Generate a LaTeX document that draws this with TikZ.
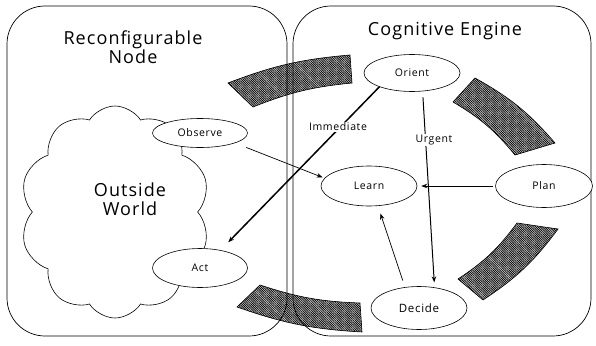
\documentclass[tikz,border=0pt]{standalone}
\usepackage{fontspec}
\setmainfont{Open Sans}
\newfontfamily\ttlfont[LetterSpace=6]{Open Sans}
\newfontfamily\smlfont[LetterSpace=6]{Open Sans}
\usetikzlibrary{shapes.geometric,shapes.symbols,patterns.meta,arrows.meta}
\begin{document}
\begin{tikzpicture}[x=1pt,y=-1pt,
  ell/.style={ellipse, draw, fill=white, line width=0.6pt, inner sep=0pt, font=\smlfont\fontsize{10.5}{12}\selectfont},
  ttl/.style={font=\ttlfont\fontsize{18}{19}\selectfont, align=center, inner sep=0pt},
  lbl/.style={fill=white, inner sep=1pt, font=\smlfont\fontsize{10.5}{12}\selectfont},
  band/.style={draw, line width=0.6pt, preaction={fill=gray!45}, pattern={Lines[angle=-45,distance=1.6pt,line width=0.7pt]}},
  boxline/.style={draw, line width=0.7pt, rounded corners=38pt},
  arr/.style={-{Stealth[length=6pt,width=4.5pt]}, line width=0.7pt}
]
\useasboundingbox (0,0) rectangle (596,345);
% cloud
\node[cloud, draw, line width=0.6pt, cloud puffs=10, cloud puff arc=115, aspect=0.9, minimum width=190pt, minimum height=212pt, inner sep=0pt] (world) at (115,212) {};
\node[ttl] (worldtxt) at (130,199) {Outside\\World};
% hatched bands
\path[band] (228,83) to[bend left=8] (350,55) -- (352,83) to[bend right=8] (253,107) -- cycle;
\path[band] (475,78) to[bend left=10] (555,143) -- (515,155) to[bend right=10] (453,102) -- cycle;
\path[band] (558,229) to[bend left=10] (483,300) -- (458,279) to[bend right=10] (517,223) -- cycle;
\path[band] (362,332) to[bend left=8] (237,307) -- (260,285) to[bend right=8] (360,303) -- cycle;
% boxes
\path[boxline] (7,6) rectangle (287,336);
\path[boxline] (293,6) rectangle (591,336);
\node[ttl] (rn) at (133,47) {Reconfigurable\\Node};
\node[ttl] (ce) at (445,31) {Cognitive Engine};
% ellipses
\node[ell, minimum width=95pt, minimum height=29pt] (observe) at (200,133) {Observe};
\node[ell, minimum width=95pt, minimum height=39pt] (act) at (200,268) {Act};
\node[ell, minimum width=96pt, minimum height=37pt] (orient) at (412,73) {Orient};
\node[ell, minimum width=96pt, minimum height=40pt] (learn) at (369,186) {Learn};
\node[ell, minimum width=97pt, minimum height=43pt] (plan) at (544,186) {Plan};
\node[ell, minimum width=96pt, minimum height=43pt, font=\smlfont\fontsize{11.5}{12}\selectfont] (decide) at (419,308) {Decide};
% connectors
\draw[arr, shorten <=12pt, shorten >=2pt] (observe.-16) -- (learn.170);
\draw[arr, line width=1.5pt, shorten >=11pt] (orient.-157) -- (act.41);
\draw[arr, line width=1pt, shorten <=6pt, shorten >=5pt] (orient.-60) -- (decide.53);
\draw[arr, shorten <=2pt, shorten >=4pt] (plan.west) -- (learn.east);
\draw[arr, shorten <=7pt, shorten >=8pt] (decide.124) -- (learn.-66);
\node[lbl] (imm) at (338,127) {Immediate};
\node[lbl] (urg) at (434,140) {Urgent};
\end{tikzpicture}
\end{document}
